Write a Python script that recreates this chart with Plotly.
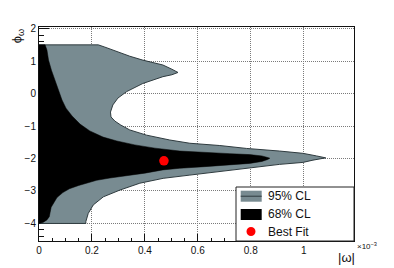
import plotly.graph_objects as go

# Contour data (|omega| in units of 1e-3, phi_omega)
cl95_x = [0.000, 0.224, 0.249, 0.293, 0.343, 0.392, 0.468, 0.502, 0.525, 0.502,
          0.468, 0.392, 0.331, 0.298, 0.279, 0.270, 0.272, 0.287, 0.309, 0.343,
          0.406, 0.494, 0.570, 0.683, 0.784, 0.909, 0.997, 1.048, 1.083, 1.035,
          0.997, 0.909, 0.784, 0.683, 0.570, 0.469, 0.381, 0.306, 0.243, 0.205,
          0.186, 0.177, 0.177, 0.000, 0.000]
cl95_y = [1.50, 1.50, 1.43, 1.29, 1.15, 1.03, 0.88, 0.75, 0.65, 0.58,
          0.52, 0.31, 0.06, -0.14, -0.35, -0.57, -0.72, -0.85, -0.97, -1.12,
          -1.28, -1.43, -1.53, -1.60, -1.69, -1.77, -1.84, -1.92, -1.98, -2.05,
          -2.12, -2.18, -2.30, -2.38, -2.51, -2.61, -2.76, -2.97, -3.18, -3.43,
          -3.69, -3.94, -4.00, -4.00, 1.50]

cl68_x = [0.000, 0.023, 0.030, 0.036, 0.047, 0.060, 0.075, 0.087, 0.102, 0.125,
          0.155, 0.192, 0.242, 0.294, 0.362, 0.438, 0.532, 0.626, 0.721, 0.796,
          0.842, 0.864, 0.872, 0.864, 0.842, 0.796, 0.721, 0.626, 0.532, 0.468,
          0.400, 0.343, 0.268, 0.218, 0.180, 0.150, 0.115, 0.090, 0.068, 0.053,
          0.046, 0.042, 0.039, 0.030, 0.015, 0.000, 0.000]
cl68_y = [1.50, 1.50, 1.34, 1.03, 0.72, 0.42, 0.11, -0.20, -0.45, -0.69,
          -0.94, -1.15, -1.34, -1.46, -1.58, -1.68, -1.77, -1.82, -1.85, -1.88,
          -1.92, -1.97, -1.99, -2.03, -2.09, -2.15, -2.20, -2.25, -2.30, -2.35,
          -2.45, -2.51, -2.60, -2.67, -2.75, -2.83, -2.93, -3.05, -3.20, -3.38,
          -3.50, -3.66, -3.79, -3.89, -3.97, -4.00, 1.50]

best_x = [0.472]
best_y = [-2.07]

legend_names = ["95% CL", "68% CL", "Best Fit"]

FONT = "Liberation Sans, Arial, sans-serif"
GRAY = "#788b91"

fig = go.Figure()
fig.add_trace(go.Scatter(x=cl95_x, y=cl95_y, mode="lines", fill="toself",
                         fillcolor=GRAY, line=dict(color="#2f3b3f", width=1),
                         name=legend_names[0]))
fig.add_trace(go.Scatter(x=cl68_x, y=cl68_y, mode="lines", fill="toself",
                         fillcolor="#000000", line=dict(color="#000000", width=0.5),
                         name=legend_names[1]))
fig.add_trace(go.Scatter(x=best_x, y=best_y, mode="markers",
                         marker=dict(color="#ff0000", size=9.5),
                         name=legend_names[2]))

# Hand-drawn legend box (ROOT TLegend style) in paper coordinates
shapes = [
    dict(type="rect", xref="paper", yref="paper", x0=0.6254, x1=1.0, y0=0.0, y1=0.2523,
         fillcolor="white", line=dict(color="#222", width=1), layer="above"),
    dict(type="rect", xref="paper", yref="paper", x0=0.6403, x1=0.7070, y0=0.1836, y1=0.2350,
         fillcolor=GRAY, line=dict(width=0), layer="above"),
    dict(type="line", xref="paper", yref="paper", x0=0.6403, x1=0.7070, y0=0.2093, y1=0.2093,
         line=dict(color="#2f3b3f", width=1), layer="above"),
    dict(type="rect", xref="paper", yref="paper", x0=0.6403, x1=0.7070, y0=0.0981, y1=0.1495,
         fillcolor="black", line=dict(width=0), layer="above"),
    dict(type="circle", xref="paper", yref="paper", x0=0.6587, x1=0.6873, y0=0.0234, y1=0.0654,
         fillcolor="#ff0000", line=dict(width=0), layer="above"),
]
leg_y = [0.2103, 0.1262, 0.0421]
annotations = [
    dict(text=n, xref="paper", yref="paper", x=0.7197, y=yy, xanchor="left", yanchor="middle",
         showarrow=False, font=dict(family=FONT, size=12, color="#111"))
    for n, yy in zip(legend_names, leg_y)
]
annotations += [
    dict(text="ϕ<sub>ω</sub>", xref="paper", yref="paper", x=-0.068, y=0.955,
         xanchor="center", yanchor="middle",
         showarrow=False, textangle=-90, font=dict(family=FONT, size=13, color="#111")),
    dict(text="|ω|", xref="paper", yref="paper", x=0.975, y=-0.075,
         xanchor="center", yanchor="middle",
         showarrow=False, font=dict(family=FONT, size=13, color="#111")),
    dict(text="×10<sup>−3</sup>", xref="paper", yref="paper", x=1.003, y=-0.025,
         xanchor="left", yanchor="middle",
         showarrow=False, font=dict(family=FONT, size=8, color="#111")),
]

# page has an 8px body margin, so the figure is 8px smaller and the plot margins shifted
fig.update_layout(
    width=386, height=260,
    margin=dict(l=31, r=40, t=19, b=27, autoexpand=False),
    plot_bgcolor="white", paper_bgcolor="white",
    font=dict(family=FONT, size=10, color="#111"),
    showlegend=False,
    shapes=shapes,
    annotations=annotations,
)

fig.update_xaxes(range=[0, 1.19], tickvals=[0, 0.2, 0.4, 0.6, 0.8, 1.0],
                 ticktext=["0", "0.2", "0.4", "0.6", "0.8", "1"],
                 ticks="inside", ticklen=7, tickcolor="#111",
                 minor=dict(dtick=0.05, ticks="inside", ticklen=3.5, tickcolor="#111", showgrid=False),
                 showgrid=True, gridcolor="#7a7a7a", griddash="1px,1px", gridwidth=1,
                 showline=True, linecolor="#111", linewidth=1, mirror=True,
                 zeroline=False, layer="below traces", automargin=False)
fig.update_yaxes(range=[-4.54, 2.05], dtick=1, tick0=0,
                 ticks="inside", ticklen=10, tickcolor="#111",
                 minor=dict(dtick=0.2, ticks="inside", ticklen=5, tickcolor="#111", showgrid=False),
                 showgrid=True, gridcolor="#7a7a7a", griddash="1px,1px", gridwidth=1,
                 showline=True, linecolor="#111", linewidth=1, mirror=True,
                 zeroline=False, layer="below traces", automargin=False)

fig.write_html("out.html")
